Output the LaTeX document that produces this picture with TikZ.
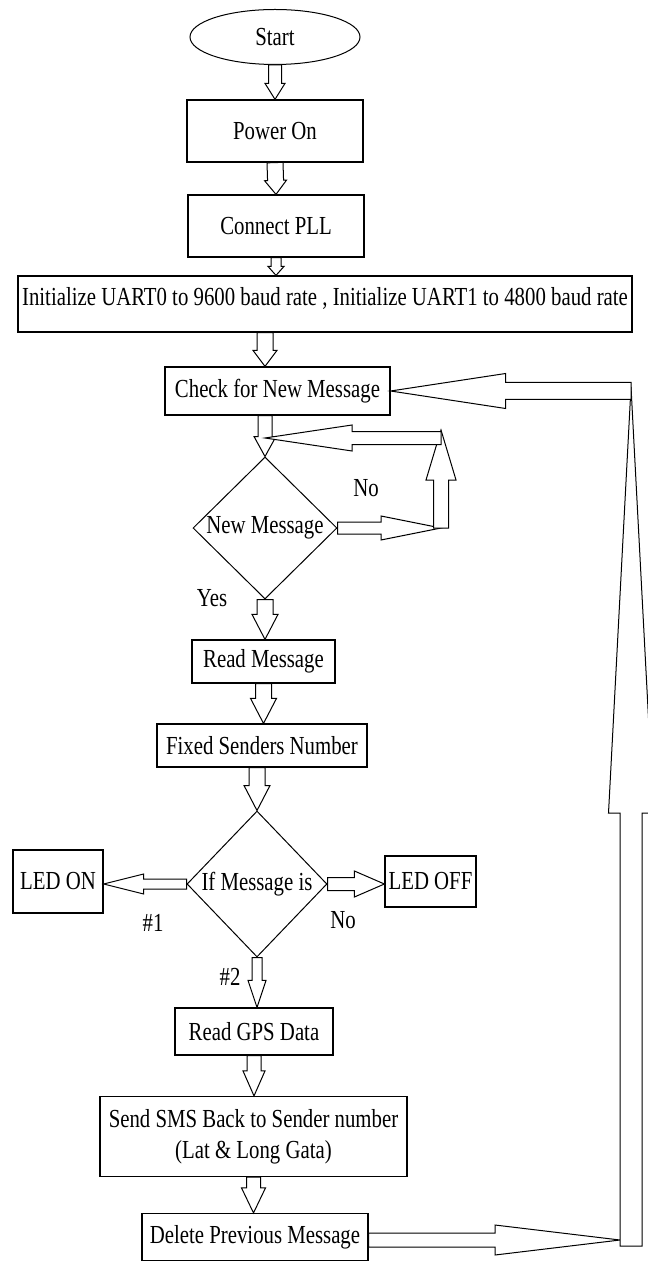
\documentclass[tikz,border=0pt]{standalone}
\usepackage{fontspec}
\setmainfont{Liberation Serif}[FakeStretch=0.8]
\usepackage{tikz}
\usetikzlibrary{positioning, shapes.geometric, calc}

% hollow block arrow: from, to, shaft half width, head half width, head length
\newcommand{\fatarrow}[5]{%
  \coordinate (fabase) at ($(#2)!#5!(#1)$);
  \draw[fat] ($(#1)!#3!90:(#2)$) -- ($(fabase)!#3!90:(#2)$) -- ($(fabase)!#4!90:(#2)$) -- (#2)
    -- ($(fabase)!#4!-90:(#2)$) -- ($(fabase)!#3!-90:(#2)$) -- ($(#1)!#3!-90:(#2)$) -- cycle;}

\begin{document}
\begin{tikzpicture}[x=0.5pt, y=-0.5pt,
  every node/.style={font=\fontsize{13}{15.5}\selectfont},
  box/.style={draw, line width=0.6pt, rectangle, inner sep=0pt, align=center},
  decision/.style={draw, line width=0.5pt, diamond, inner sep=0pt, aspect=1},
  fat/.style={draw, line width=0.5pt, fill=white, line join=miter}]
\useasboundingbox (0,0) rectangle (647,1261);

\node[draw, line width=0.5pt, ellipse, minimum width=85pt, minimum height=27.5pt, inner sep=0pt] (start) at (275,37) {Start};
\node[box, minimum width=88pt, minimum height=31pt] (power) at (275,131) {Power On};
\node[box, minimum width=88pt, minimum height=31pt] (pll) at (276,226) {Connect PLL};
\node[box, minimum width=307pt, minimum height=28pt, text height=9.6pt, text depth=8pt] (init) at (325,304) {Initialize UART0 to 9600 baud rate , Initialize UART1 to 4800 baud rate};
\node[box, minimum width=112.5pt, minimum height=24pt] (check) at (277.5,391) {Check for New Message};
\node[decision, minimum width=72pt, minimum height=71pt] (newmsg) at (265,528) {\makebox[0pt]{New Message}};
\node[box, minimum width=71.5pt, minimum height=21.5pt] (readmsg) at (263.5,661.5) {Read Message};
\node[box, minimum width=105pt, minimum height=21.5pt] (fixed) at (262,745.5) {Fixed Senders Number};
\node[decision, minimum width=70pt, minimum height=73pt] (ifmsg) at (257,884) {\makebox[0pt]{If Message is}};
\node[box, minimum width=45pt, minimum height=31.5pt] (ledon) at (58,881.5) {LED ON};
\node[box, minimum width=45.5pt, minimum height=25.5pt] (ledoff) at (430.5,881.5) {LED OFF};
\node[box, minimum width=79pt, minimum height=23.5pt] (gps) at (254,1031.5) {Read GPS Data};
\node[box, minimum width=153.5pt, minimum height=40pt] (sms) at (253.5,1136.5) {Send SMS Back to Sender number\\(Lat \& Long Gata)};
\node[box, minimum width=113pt, minimum height=23.5pt] (delete) at (255,1237) {Delete Previous Message};

\node (yes) at (212,598) {Yes};
\node (no) at (366,488) {No};
\node (one) at (153,923) {\#1};
\node (noled) at (343,920) {No};
\node (two) at (230,977) {\#2};

\coordinate (nocorner) at (441,430);
\coordinate (noback) at (441,438);
\coordinate (retbot) at (620,1240);
\coordinate (retfoot) at (631,1246);
\coordinate (rettop) at (631,387);

\fatarrow{start.south}{power.north}{3.25pt}{5pt}{8pt}
\fatarrow{power.south}{pll.north}{4pt}{5.5pt}{7pt}
\fatarrow{pll.south}{pll.south |- init.north}{2.5pt}{4pt}{4.5pt}
\fatarrow{newmsg.north |- init.south}{newmsg.north |- check.north}{4pt}{6pt}{8pt}
\fatarrow{newmsg.north |- check.south}{newmsg.north}{3.5pt}{5.5pt}{10pt}
\fatarrow{newmsg.east}{nocorner |- newmsg.east}{3pt}{6pt}{30pt}
\fatarrow{nocorner |- newmsg.east}{nocorner}{3.75pt}{7.5pt}{25pt}
\fatarrow{noback}{newmsg.north |- noback}{3.25pt}{6.5pt}{43.5pt}
\fatarrow{newmsg.south}{newmsg.south |- readmsg.north}{4pt}{6.5pt}{12.5pt}
\fatarrow{readmsg.south}{readmsg.south |- fixed.north}{4pt}{6.5pt}{12.5pt}
\fatarrow{ifmsg.north |- fixed.south}{ifmsg.north}{4pt}{6.5pt}{12.5pt}
\fatarrow{ifmsg.west}{ifmsg.west -| ledon.east}{2.5pt}{5pt}{20pt}
\fatarrow{ifmsg.east}{ifmsg.east -| ledoff.west}{3.25pt}{6.5pt}{15pt}
\fatarrow{ifmsg.south}{ifmsg.south |- gps.north}{2.5pt}{4.5pt}{13.5pt}
\fatarrow{gps.south}{gps.south |- sms.north}{3.5pt}{5.5pt}{12.5pt}
\fatarrow{sms.south}{sms.south |- delete.north}{3.5pt}{6pt}{12.5pt}
\fatarrow{delete.east |- retbot}{retbot}{3.5pt}{7.5pt}{62.5pt}
\fatarrow{retfoot}{rettop}{5.5pt}{11.25pt}{213pt}
\fatarrow{rettop |- check.east}{check.east}{4.25pt}{8.75pt}{57.5pt}
\end{tikzpicture}
\end{document}
